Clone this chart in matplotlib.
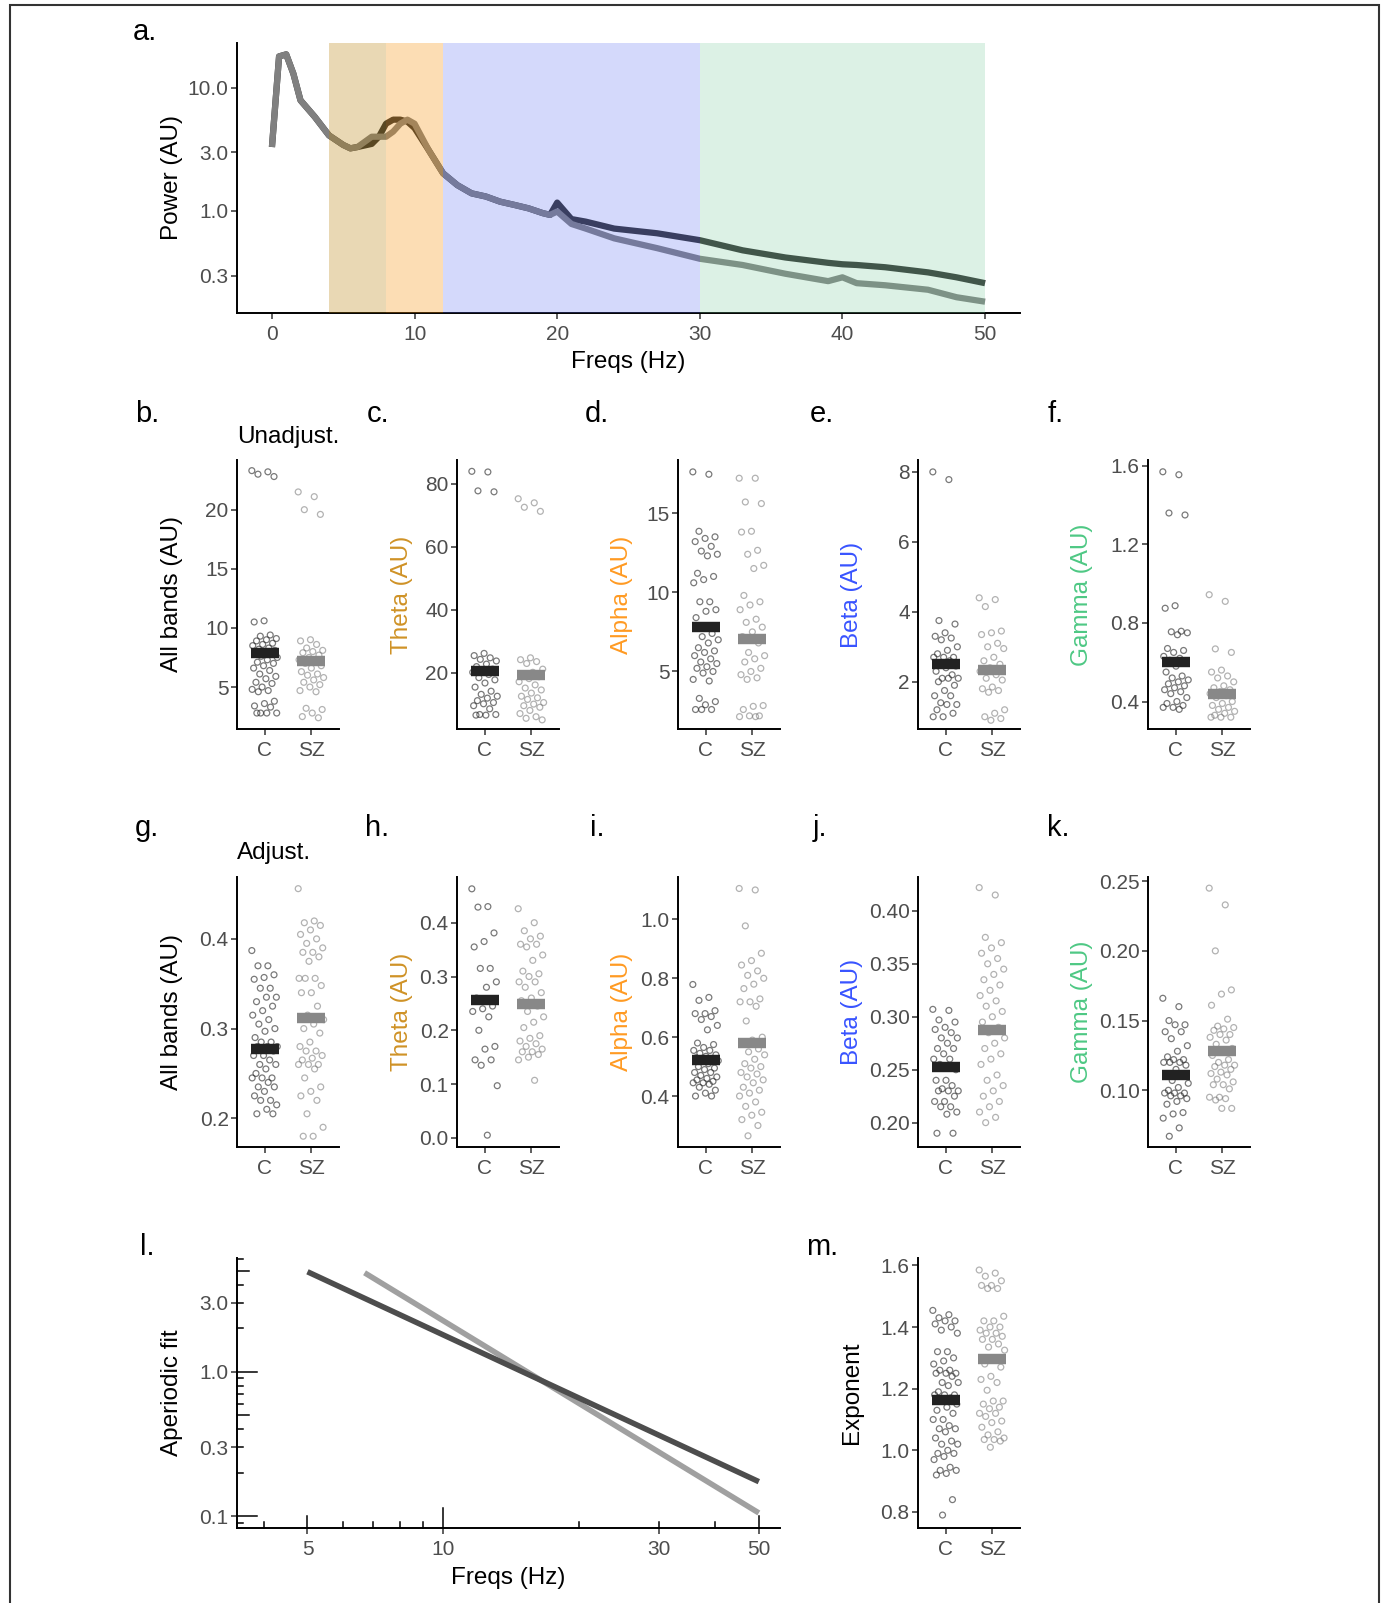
import numpy as np
import matplotlib.pyplot as plt
import matplotlib.transforms as mtransforms
from matplotlib.patches import Rectangle

plt.rcParams['font.family'] = ['Liberation Sans', 'DejaVu Sans']

# ---- panel a: spectra ----
freqs = [0, 0.5, 1, 1.5, 2, 3, 4, 5, 5.5, 6, 7, 7.5, 8, 8.5, 9, 9.5, 10, 11, 12, 13,
         14, 15, 16, 17, 18, 19, 19.5, 20, 21, 22, 24, 27, 30, 33, 36, 39, 40, 41, 43, 46, 48, 50]
power_c = [3.3, 17.9, 18.6, 13.0, 7.9, 5.8, 4.1, 3.43, 3.22, 3.3, 3.5, 4.0, 5.1, 5.5, 5.5, 5.3, 4.7, 3.1, 2.02, 1.62,
           1.39, 1.31, 1.19, 1.12, 1.05, 0.96, 0.93, 1.17, 0.86, 0.82, 0.72, 0.66, 0.58, 0.48, 0.42, 0.38, 0.37, 0.365, 0.35, 0.318, 0.29, 0.26]
power_sz = [3.3, 17.9, 18.6, 13.0, 7.9, 5.8, 4.1, 3.43, 3.22, 3.3, 4.0, 4.0, 4.0, 4.4, 5.1, 5.5, 5.1, 3.1, 2.02, 1.62,
            1.39, 1.31, 1.19, 1.12, 1.05, 0.96, 0.93, 0.99, 0.785, 0.72, 0.60, 0.50, 0.41, 0.365, 0.31, 0.27, 0.29, 0.26, 0.25, 0.23, 0.20, 0.184]
bands = [(4, 8), (8, 12), (12, 30), (30, 50)]

# ---- strip panels (C, SZ) ----
b_c = [23.3, 23.2, 23.0, 22.8, 10.6, 10.5, 9.4, 9.3, 9.1, 9.0, 8.9, 8.7, 8.6, 8.5, 8.3, 8.2, 8.1, 8.0, 7.9, 7.8, 7.6, 7.5, 7.3,
       7.1, 7.0, 6.8, 6.6, 6.4, 6.1, 5.9, 5.7, 5.4, 5.3, 5.0, 4.8, 4.7, 4.6, 3.8, 3.6, 3.4, 3.3, 2.8, 2.8, 2.8, 2.8]
b_sz = [21.5, 21.1, 20.0, 19.6, 9.0, 8.9, 8.6, 8.3, 8.1, 8.0, 7.9, 7.7, 7.5, 7.3, 7.2, 7.0, 6.8, 6.6, 6.3, 6.1, 6.0, 5.8,
        5.6, 5.4, 5.2, 5.0, 4.7, 4.6, 3.2, 3.1, 2.8, 2.5, 2.4]
c_c = [84.0, 83.8, 77.8, 77.5, 26.2, 25.5, 24.8, 24.3, 23.8, 22.8, 22.0, 21.2, 20.8, 20.2, 19.5, 18.5, 17.8, 16.8, 15.5,
       14.2, 13.2, 12.6, 12.0, 11.2, 10.6, 10.2, 9.6, 8.6, 6.8, 6.8, 6.6, 6.6]
c_sz = [75.3, 74.0, 72.6, 71.3, 24.8, 24.2, 23.6, 23.0, 21.2, 20.2, 19.6, 18.8, 18.2, 17.2, 16.2, 15.2, 14.6, 13.6, 12.6,
        12.1, 11.6, 10.6, 10.1, 9.6, 9.1, 8.1, 7.1, 6.1, 5.6, 5.1]
d_c = [17.6, 17.45, 13.85, 13.5, 13.4, 13.2, 12.9, 12.6, 12.4, 12.3, 11.2, 11.0, 10.8, 10.6, 9.4, 9.4, 8.9, 8.8, 8.4, 7.4,
       7.2, 7.0, 6.8, 6.5, 6.3, 6.2, 6.0, 5.8, 5.6, 5.5, 5.3, 5.2, 5.0, 4.9, 4.5, 4.4, 3.3, 3.1, 2.9, 2.6, 2.6, 2.6]
d_sz = [17.2, 17.2, 15.7, 15.6, 13.85, 13.8, 12.65, 12.4, 11.7, 11.5, 9.8, 9.4, 9.2, 8.9, 8.3, 8.1, 7.8, 7.5, 7.2, 6.8,
        6.2, 6.0, 5.8, 5.6, 5.2, 5.0, 4.8, 4.6, 4.5, 2.85, 2.8, 2.6, 2.2, 2.2, 2.15, 2.15]
e_c = [8.0, 7.78, 3.75, 3.65, 3.4, 3.3, 3.25, 3.2, 3.0, 2.9, 2.8, 2.7, 2.7, 2.7, 2.6, 2.5, 2.45, 2.4, 2.3, 2.2, 2.1, 2.1,
       2.1, 2.0, 1.9, 1.75, 1.6, 1.6, 1.4, 1.35, 1.35, 1.2, 1.1, 1.0, 1.0]
e_sz = [4.4, 4.35, 4.15, 3.45, 3.4, 3.35, 3.1, 3.0, 2.95, 2.7, 2.6, 2.5, 2.4, 2.3, 2.2, 2.1, 2.05, 1.85, 1.8, 1.75, 1.7,
        1.2, 1.1, 1.0, 0.95, 0.9]
f_c = [1.57, 1.555, 1.36, 1.35, 0.888, 0.875, 0.758, 0.755, 0.75, 0.74, 0.67, 0.66, 0.65, 0.63, 0.62, 0.61, 0.60, 0.58,
       0.55, 0.53, 0.52, 0.51, 0.50, 0.49, 0.48, 0.47, 0.46, 0.45, 0.44, 0.42, 0.40, 0.39, 0.38, 0.37, 0.37, 0.36]
f_sz = [0.944, 0.91, 0.668, 0.65, 0.56, 0.55, 0.53, 0.52, 0.50, 0.48, 0.47, 0.46, 0.45, 0.44, 0.43, 0.42, 0.40, 0.39,
        0.38, 0.37, 0.36, 0.35, 0.34, 0.33, 0.32, 0.32, 0.32]
g_c = [0.387, 0.370, 0.370, 0.360, 0.357, 0.355, 0.345, 0.345, 0.335, 0.335, 0.330, 0.325, 0.320, 0.315, 0.310, 0.305,
       0.300, 0.297, 0.290, 0.285, 0.285, 0.280, 0.280, 0.280, 0.275, 0.270, 0.270, 0.265, 0.260, 0.260, 0.255, 0.250,
       0.245, 0.245, 0.245, 0.240, 0.235, 0.235, 0.230, 0.225, 0.220, 0.220, 0.215, 0.210, 0.205, 0.205]
g_sz = [0.456, 0.420, 0.418, 0.415, 0.410, 0.405, 0.400, 0.395, 0.390, 0.385, 0.385, 0.380, 0.375, 0.356, 0.356, 0.356,
        0.348, 0.340, 0.340, 0.325, 0.315, 0.310, 0.305, 0.300, 0.295, 0.285, 0.280, 0.275, 0.275, 0.270, 0.267, 0.265,
        0.260, 0.260, 0.260, 0.255, 0.245, 0.235, 0.230, 0.225, 0.220, 0.205, 0.190, 0.180, 0.180]
h_c = [0.463, 0.430, 0.429, 0.381, 0.365, 0.355, 0.315, 0.315, 0.290, 0.280, 0.260, 0.245, 0.240, 0.235, 0.225, 0.200,
       0.170, 0.165, 0.145, 0.145, 0.135, 0.097, 0.005]
h_sz = [0.426, 0.400, 0.385, 0.375, 0.370, 0.360, 0.360, 0.355, 0.340, 0.330, 0.310, 0.305, 0.300, 0.290, 0.290, 0.280,
        0.270, 0.260, 0.255, 0.245, 0.235, 0.225, 0.215, 0.205, 0.190, 0.185, 0.180, 0.175, 0.170, 0.165, 0.160, 0.160,
        0.155, 0.150, 0.145, 0.107]
i_c = [0.779, 0.735, 0.725, 0.690, 0.680, 0.680, 0.670, 0.660, 0.640, 0.625, 0.580, 0.575, 0.565, 0.555, 0.555, 0.545,
       0.540, 0.535, 0.530, 0.525, 0.520, 0.520, 0.510, 0.500, 0.495, 0.490, 0.480, 0.480, 0.470, 0.465, 0.460, 0.455,
       0.450, 0.445, 0.445, 0.440, 0.430, 0.420, 0.410, 0.400, 0.400]
i_sz = [1.105, 1.100, 0.978, 0.885, 0.860, 0.845, 0.825, 0.810, 0.800, 0.780, 0.765, 0.730, 0.720, 0.720, 0.705, 0.655,
        0.600, 0.590, 0.580, 0.560, 0.550, 0.540, 0.525, 0.510, 0.500, 0.495, 0.480, 0.475, 0.465, 0.455, 0.445, 0.430,
        0.420, 0.410, 0.400, 0.380, 0.365, 0.345, 0.335, 0.320, 0.300, 0.265]
j_c = [0.307, 0.306, 0.297, 0.295, 0.290, 0.288, 0.285, 0.280, 0.280, 0.275, 0.270, 0.270, 0.265, 0.260, 0.260, 0.255,
       0.250, 0.240, 0.240, 0.235, 0.232, 0.230, 0.230, 0.230, 0.225, 0.220, 0.220, 0.215, 0.215, 0.210, 0.208, 0.190, 0.190]
j_sz = [0.422, 0.415, 0.375, 0.370, 0.365, 0.360, 0.355, 0.350, 0.345, 0.340, 0.335, 0.330, 0.325, 0.320, 0.315, 0.310,
        0.305, 0.300, 0.295, 0.290, 0.285, 0.280, 0.275, 0.270, 0.265, 0.260, 0.255, 0.245, 0.240, 0.235, 0.230, 0.225,
        0.220, 0.215, 0.210, 0.205, 0.200]
k_c = [0.166, 0.160, 0.150, 0.147, 0.147, 0.142, 0.142, 0.137, 0.132, 0.128, 0.124, 0.122, 0.122, 0.120, 0.120, 0.120,
       0.118, 0.115, 0.112, 0.110, 0.107, 0.105, 0.102, 0.100, 0.098, 0.098, 0.098, 0.096, 0.096, 0.094, 0.092, 0.090,
       0.084, 0.083, 0.080, 0.073, 0.067]
k_sz = [0.245, 0.233, 0.200, 0.172, 0.169, 0.161, 0.151, 0.146, 0.145, 0.144, 0.143, 0.140, 0.140, 0.138, 0.136, 0.133,
        0.130, 0.128, 0.125, 0.122, 0.120, 0.118, 0.118, 0.117, 0.115, 0.113, 0.112, 0.111, 0.108, 0.106, 0.104, 0.104,
        0.101, 0.095, 0.095, 0.094, 0.093, 0.087, 0.087]
m_c = [1.454, 1.44, 1.43, 1.42, 1.42, 1.41, 1.40, 1.39, 1.38, 1.32, 1.32, 1.30, 1.29, 1.28, 1.26, 1.26, 1.25, 1.25, 1.25,
       1.24, 1.22, 1.22, 1.21, 1.19, 1.18, 1.18, 1.18, 1.17, 1.16, 1.15, 1.14, 1.13, 1.12, 1.10, 1.10, 1.08, 1.07, 1.07,
       1.06, 1.04, 1.03, 1.02, 1.02, 1.00, 0.99, 0.99, 0.98, 0.97, 0.945, 0.935, 0.935, 0.925, 0.92, 0.84, 0.79]
m_sz = [1.585, 1.575, 1.565, 1.55, 1.535, 1.535, 1.525, 1.525, 1.435, 1.42, 1.42, 1.40, 1.40, 1.39, 1.38, 1.38, 1.37,
        1.36, 1.36, 1.345, 1.335, 1.325, 1.30, 1.28, 1.27, 1.24, 1.23, 1.22, 1.195, 1.16, 1.16, 1.15, 1.14, 1.135, 1.12,
        1.12, 1.11, 1.095, 1.09, 1.075, 1.06, 1.05, 1.04, 1.035, 1.035, 1.03, 1.01]

mean_c = {'b': 7.9, 'c': 20.6, 'd': 7.8, 'e': 2.52, 'f': 0.60, 'g': 0.277, 'h': 0.256,
          'i': 0.521, 'j': 0.2527, 'k': 0.1112, 'm': 1.164}
mean_sz = {'b': 7.2, 'c': 19.2, 'd': 7.08, 'e': 2.33, 'f': 0.44, 'g': 0.312, 'h': 0.248,
           'i': 0.58, 'j': 0.2876, 'k': 0.128, 'm': 1.296}

groups = ['C', 'SZ']

# ---- panel l: aperiodic fits ----
fit_c_x = [5, 50]
fit_c_y = [4.93, 0.173]
fit_sz_x = [6.69, 50]
fit_sz_y = [4.85, 0.105]

# ---- figure ----
W, H = 1383, 1603
fig = plt.figure(figsize=(W / 100, H / 100), dpi=100)

TICK_COL = '#4D4D4D'
TICK_FS = 15
LAB_FS = 17.5


def add_ax(left, top, right, bottom):
    return fig.add_axes([left / W, 1 - bottom / H, (right - left) / W, (bottom - top) / H])


def classic(ax):
    for s in ['top', 'right']:
        ax.spines[s].set_visible(False)
    for s in ['left', 'bottom']:
        ax.spines[s].set_linewidth(1.4)
        ax.spines[s].set_color('black')
    ax.tick_params(length=4, width=1.1, color='#333333', labelcolor=TICK_COL,
                   labelsize=TICK_FS, pad=2)
    ax.tick_params(axis='x', pad=4.5)
    ax.minorticks_off()


def place_ylabel(ax, x_px):
    # ylabels are aligned per column, as in the original layout
    tr = mtransforms.blended_transform_factory(fig.transFigure, ax.transAxes)
    ax.yaxis.set_label_coords(x_px / W, 0.5, transform=tr)


def letter(x, y, s):
    fig.text(x / W, 1 - y / H, s, fontsize=21, va='baseline', ha='left')


# panel a
ax = add_ax(237, 43, 1020, 313)
classic(ax)
ax.plot(freqs, power_c, color='#303030', lw=4.5, solid_joinstyle='round', solid_capstyle='butt', zorder=2)
ax.plot(freqs, power_sz, color='#808080', lw=4.5, solid_joinstyle='round', solid_capstyle='butt', zorder=2)
band_cols = ['#B98008', '#F89108', '#576BF3', '#77CB9B']
band_alpha = [0.3, 0.3, 0.25, 0.25]
for (lo, hi), col, al in zip(bands, band_cols, band_alpha):
    ax.axvspan(lo, hi, color=col, alpha=al, lw=0, zorder=3)
ax.set_yscale('log')
ax.set_xlim(-2.45, 52.45)
ax.set_ylim(0.149, 23.0)
ax.set_yticks([0.3, 1.0, 3.0, 10.0])
ax.set_yticklabels(['0.3', '1.0', '3.0', '10.0'])
ax.set_xticks([0, 10, 20, 30, 40, 50])
ax.minorticks_off()
ax.set_ylabel('Power (AU)', fontsize=LAB_FS)
place_ylabel(ax, 183)
ax.set_xlabel('Freqs (Hz)', fontsize=LAB_FS, labelpad=5)
letter(133, 40, 'a.')


def strip(ax, key, vc, vs, ylim, yticks, fmt, ylabel, ycol, lab_x):
    classic(ax)
    for pos, vals, col in [(1, vc, (0.13, 0.13, 0.13, 0.6)), (2, vs, (0.4, 0.4, 0.4, 0.5))]:
        vals = np.asarray(vals)
        off = ((np.arange(len(vals)) * 0.618034) % 1 - 0.5) * 0.56
        ax.scatter(pos + off, vals, s=18, facecolors='none', edgecolors=[col], linewidths=0.9, zorder=2)
    ax.plot([0.7, 1.3], [mean_c[key]] * 2, color='#222222', lw=7.5, solid_capstyle='butt', zorder=3)
    ax.plot([1.7, 2.3], [mean_sz[key]] * 2, color='#888888', lw=7.5, solid_capstyle='butt', zorder=3)
    ax.set_xlim(0.4, 2.6)
    ax.set_ylim(*ylim)
    ax.set_xticks([1, 2])
    ax.set_xticklabels(groups)
    ax.set_yticks(yticks)
    ax.set_yticklabels([fmt.format(t) for t in yticks])
    ax.set_ylabel(ylabel, fontsize=LAB_FS, color=ycol)
    place_ylabel(ax, lab_x)


THETA, ALPHA, BETA, GAMMA = '#CF9226', '#FF9A22', '#3853FF', '#4EC884'
lefts = [237, 457, 678, 918, 1148]
label_x = [183, 413, 633, 863, 1093]
r1 = (460, 729)
r2 = (877, 1147)

row1 = [('b', b_c, b_sz, (1.45, 24.2), [5, 10, 15, 20], '{:g}', 'All bands (AU)', 'black'),
        ('c', c_c, c_sz, (2.2, 87.6), [20, 40, 60, 80], '{:g}', 'Theta (AU)', THETA),
        ('d', d_c, d_sz, (1.37, 18.35), [5, 10, 15], '{:g}', 'Alpha (AU)', ALPHA),
        ('e', e_c, e_sz, (0.65, 8.34), [2, 4, 6, 8], '{:g}', 'Beta (AU)', BETA),
        ('f', f_c, f_sz, (0.26, 1.63), [0.4, 0.8, 1.2, 1.6], '{:.1f}', 'Gamma (AU)', GAMMA)]
row2 = [('g', g_c, g_sz, (0.168, 0.469), [0.2, 0.3, 0.4], '{:.1f}', 'All bands (AU)', 'black'),
        ('h', h_c, h_sz, (-0.017, 0.485), [0.0, 0.1, 0.2, 0.3, 0.4], '{:.1f}', 'Theta (AU)', THETA),
        ('i', i_c, i_sz, (0.227, 1.144), [0.4, 0.6, 0.8, 1.0], '{:.1f}', 'Alpha (AU)', ALPHA),
        ('j', j_c, j_sz, (0.177, 0.432), [0.20, 0.25, 0.30, 0.35, 0.40], '{:.2f}', 'Beta (AU)', BETA),
        ('k', k_c, k_sz, (0.0593, 0.253), [0.10, 0.15, 0.20, 0.25], '{:.2f}', 'Gamma (AU)', GAMMA)]

for (top, bot), row in [(r1, row1), (r2, row2)]:
    for left, lx, (key, vc, vs, yl, yt, fmt, lab, col) in zip(lefts, label_x, row):
        a = add_ax(left, top, left + 102, bot)
        strip(a, key, vc, vs, yl, yt, fmt, lab, col, lx)

for x, s in zip([135, 367, 585, 810, 1048], ['b.', 'c.', 'd.', 'e.', 'f.']):
    letter(x, 422, s)
for x, s in zip([135, 365, 590, 813, 1047], ['g.', 'h.', 'i.', 'j.', 'k.']):
    letter(x, 836, s)
fig.text(237 / W, 1 - 443 / H, 'Unadjust.', fontsize=LAB_FS, va='baseline')
fig.text(237 / W, 1 - 859 / H, 'Adjust.', fontsize=LAB_FS, va='baseline')

# panel l
ax = add_ax(237, 1258, 780, 1528)
classic(ax)
ax.plot(fit_c_x, fit_c_y, color='#4D4D4D', lw=4.0, solid_capstyle='butt', zorder=3)
ax.plot(fit_sz_x, fit_sz_y, color='#A0A0A0', lw=4.0, solid_capstyle='butt', zorder=2)
ax.set_xscale('log')
ax.set_yscale('log')
ax.set_xlim(3.49, 55.7)
ax.set_ylim(0.0826, 6.14)
ax.set_xticks([5, 10, 30, 50])
ax.set_xticklabels(['5', '10', '30', '50'])
ax.set_yticks([0.1, 0.3, 1.0, 3.0])
ax.set_yticklabels(['0.1', '0.3', '1.0', '3.0'])
ax.minorticks_off()
ax.set_xlabel('Freqs (Hz)', fontsize=LAB_FS, labelpad=6)
ax.set_ylabel('Aperiodic fit', fontsize=LAB_FS)
place_ylabel(ax, 183)
# log ticks drawn inside the axes
tx = mtransforms.blended_transform_factory(ax.transData, ax.transAxes)
ty = mtransforms.blended_transform_factory(ax.transAxes, ax.transData)
for dec in [0.01, 0.1, 1, 10]:
    for m in range(1, 10):
        v = dec * m
        ln = 20 if m == 1 else (12 if m == 5 else 6)
        if 3.49 < v < 55.7:
            ax.plot([v, v], [0, ln / 270], transform=tx, color='black', lw=1.1, clip_on=False)
        if 0.0826 < v < 6.14:
            ax.plot([0, ln / 543], [v, v], transform=ty, color='black', lw=1.1, clip_on=False)
letter(140, 1255, 'l.')

# panel m
ax = add_ax(918, 1258, 1020, 1528)
strip(ax, 'm', m_c, m_sz, (0.748, 1.624), [0.8, 1.0, 1.2, 1.4, 1.6], '{:.1f}', 'Exponent', 'black', 863)
letter(806, 1255, 'm.')

# outer frame
fig.patches.append(Rectangle((10 / W, -0.01), (1379 - 10) / W, 1.01 - 5 / H, transform=fig.transFigure,
                             fill=False, lw=1.5, ec='#333333'))

fig.savefig('out.png', dpi=100)
